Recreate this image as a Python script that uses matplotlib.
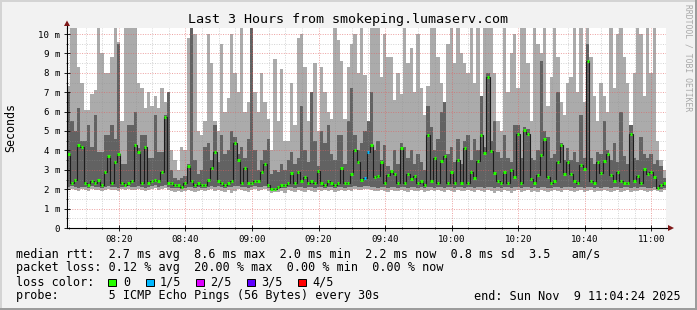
import numpy as np
import matplotlib
matplotlib.use("Agg")
import matplotlib.pyplot as plt
from matplotlib.patches import Rectangle, Polygon

W, H = 697, 310
MONO = "DejaVu Sans Mono"

# one bin per minute, x = minutes after 08:00, first bin starts 08:04:24
start = 4.4

# smoke: lo..hi light, q1..q3 dark, med = median rtt (ms)
hi = [7.3, 11, 11, 8.3, 7.5, 6.1, 6.1, 6.9, 7.1, 11, 9.0, 8.0, 8.0, 8.8, 11, 9.6, 5.5, 11, 11, 11,
      11, 7.5, 7.2, 6.2, 7.0, 6.3, 6.8, 6.2, 7.2, 6.5,
      7.0, 4.0, 3.5, 3.0, 4.2, 4.0, 9.8, 11, 10.0, 5.0, 4.8, 5.5, 10.0, 8.5, 5.5, 5.0, 9.5, 6.0, 6.7, 10.0,
      8.0, 7.0, 11, 6.0, 6.5, 11, 7.0, 6.0, 8.0, 6.5,
      5.6, 4.0, 8.7, 5.5, 8.2, 4.5, 4.5, 7.5, 5.3, 9.8, 10.0, 8.3, 5.5, 7.0, 8.5, 5.0, 8.3, 7.0, 6.0, 5.6,
      11, 9.7, 8.6, 5.6, 8.3, 9.5, 10.0, 8.0, 11, 7.9,
      5.5, 10.5, 11, 11, 7.8, 10.0, 8.8, 8.8, 6.6, 8.0, 6.9, 11, 8.5, 9.3, 7.0, 10.0, 7.2, 5.8, 7.3, 11,
      10.3, 8.8, 7.5, 6.5, 9.5, 11, 8.5, 11, 9.0, 8.5,
      8.0, 11, 7.5, 11, 6.8, 11, 11, 11, 8.0, 5.5, 5.0, 11, 7.0, 9.0, 10.0, 7.2, 11, 11, 8.5, 5.5,
      11, 9.5, 9.0, 11, 6.3, 7.8, 11, 8.8, 6.5, 5.8,
      7.5, 7.8, 11, 7.0, 11, 6.5, 11, 8.8, 6.8, 5.5, 7.5, 6.8, 6.0, 11, 7.2, 10.0, 11, 8.8, 7.5, 5.3,
      8.0, 11, 10.0, 6.8, 11, 8.0, 11, 4.5, 3.5, 3.0]
q3 = [7.0, 5.5, 5.0, 6.2, 4.5, 4.5, 5.3, 4.2, 5.8, 3.9, 3.9, 4.8, 4.8, 5.3, 4.6, 9.5, 3.3, 3.3, 5.3, 5.3,
      6.0, 4.1, 4.8, 4.8, 3.6, 3.6, 5.8, 3.9, 3.9, 5.8,
      7.0, 3.0, 2.6, 2.5, 2.6, 2.7, 3.3, 11, 3.5, 2.8, 3.0, 4.2, 4.4, 3.5, 5.3, 3.4, 4.8, 3.8, 4.0, 5.0,
      4.7, 3.8, 4.2, 3.6, 4.6, 11, 4.0, 3.0, 3.5, 4.0,
      4.6, 2.8, 3.0, 2.9, 3.3, 3.0, 3.5, 3.9, 3.3, 3.6, 6.3, 4.0, 3.4, 7.0, 4.5, 3.2, 5.0, 4.4, 5.3, 3.8,
      3.5, 4.8, 4.8, 3.3, 5.5, 7.2, 4.8, 4.0, 4.4, 5.0,
      5.5, 7.0, 4.0, 4.5, 3.5, 4.3, 3.2, 3.0, 4.0, 3.3, 4.4, 4.2, 3.6, 4.0, 3.3, 3.8, 3.4, 3.0, 6.3, 5.2,
      4.0, 4.6, 6.0, 6.5, 3.8, 4.2, 3.4, 4.6, 3.3, 4.5,
      4.8, 3.5, 4.6, 4.0, 6.8, 4.2, 8.0, 4.5, 5.5, 3.9, 3.6, 4.8, 3.6, 3.4, 5.3, 5.3, 3.6, 5.2, 5.1, 3.6,
      3.5, 4.0, 8.6, 5.0, 4.7, 3.6, 3.8, 7.0, 4.4, 3.5,
      4.1, 3.5, 3.9, 3.4, 5.8, 3.6, 9.5, 3.6, 3.3, 3.9, 3.8, 5.5, 4.0, 3.5, 4.4, 3.4, 6.0, 3.7, 3.3, 5.3,
      3.6, 3.5, 4.7, 3.8, 3.6, 3.8, 3.3, 3.5, 3.2, 2.6]
med = [3.8, 2.3, 2.5, 4.3, 4.2, 2.3, 2.2, 2.4, 2.3, 2.5, 2.2, 2.9, 3.7, 2.3, 3.4, 3.8, 2.3, 2.2, 2.3, 2.4,
       4.3, 3.9, 2.3, 4.2, 2.3, 2.4, 2.5, 2.4, 2.9, 5.7,
       2.3, 2.3, 2.2, 2.2, 2.1, 2.3, 3.2, 2.4, 2.2, 2.3, 2.2, 2.2, 2.5, 3.1, 3.9, 2.4, 2.3, 2.2, 2.3, 2.4,
       4.4, 3.5, 2.3, 3.1, 2.3, 2.3, 2.4, 2.4, 2.9, 3.3,
       2.2, 2.0, 2.0, 2.1, 2.2, 2.2, 2.3, 2.85, 2.3, 2.9, 2.4, 2.65, 2.3, 2.4, 2.3, 2.95, 2.3, 2.2, 2.4, 2.3,
       2.2, 2.3, 3.1, 2.3, 2.3, 2.8, 4.0, 3.4, 2.5, 2.6,
       3.9, 4.3, 2.65, 2.7, 3.4, 2.3, 2.75, 2.95, 2.8, 2.3, 4.1, 2.3, 2.8, 2.55, 2.7, 2.3, 2.4, 2.2, 4.8, 2.4,
       3.6, 2.3, 3.45, 3.7, 2.3, 2.9, 2.3, 3.5, 2.3, 4.1,
       2.3, 2.9, 2.6, 3.45, 4.8, 3.85, 7.8, 3.95, 2.85, 2.4, 2.3, 2.9, 2.3, 3.0, 2.65, 4.85, 2.3, 5.05, 4.85, 2.55,
       2.3, 2.75, 3.75, 4.6, 2.65, 2.3, 2.4, 3.4, 4.3, 2.8,
       3.4, 2.8, 2.4, 2.3, 3.25, 3.05, 8.6, 2.4, 2.3, 3.4, 2.85, 3.45, 3.8, 2.75, 2.4, 2.9, 2.4, 2.3, 2.3, 4.85,
       2.4, 2.7, 2.3, 3.05, 2.8, 2.9, 2.65, 2.05, 2.2, 2.3]
q1 = [2.1, 2.15, 2.1, 2.05, 2.1, 2.1, 2.05, 2.15, 2.1, 2.1, 2.05, 2.1, 2.15, 2.1, 2.1, 2.05, 2.1, 2.1, 2.15, 2.1,
      2.1, 2.15, 2.1, 2.05, 2.1, 2.15, 2.2, 2.1, 2.15, 2.2,
      2.1, 2.05, 2.05, 2.05, 2.0, 2.05, 2.1, 2.1, 2.05, 2.1, 2.05, 2.05, 2.1, 2.15, 2.1, 2.15, 2.1, 2.05, 2.1, 2.1,
      2.15, 2.15, 2.1, 2.1, 2.05, 2.1, 2.15, 2.1, 2.1, 2.15,
      2.05, 1.95, 1.95, 2.0, 2.05, 2.05, 2.1, 2.1, 2.05, 2.1, 2.1, 2.05, 2.1, 2.1, 2.05, 2.1, 2.1, 2.05, 2.1, 2.1,
      2.05, 2.1, 2.1, 2.05, 2.1, 2.1, 2.15, 2.1, 2.1, 2.15,
      2.15, 2.1, 2.1, 2.05, 2.1, 2.1, 2.05, 2.1, 2.1, 2.05, 2.1, 2.1, 2.05, 2.1, 2.1, 2.05, 2.1, 2.05, 2.1, 2.1,
      2.05, 2.1, 2.1, 2.05, 2.1, 2.1, 2.05, 2.1, 2.1, 2.05,
      2.1, 2.1, 2.05, 2.1, 2.1, 2.05, 2.1, 2.1, 2.05, 2.1, 2.05, 2.1, 2.1, 2.05, 2.1, 2.1, 2.05, 2.1, 2.1, 2.05,
      2.1, 2.05, 2.1, 2.1, 2.05, 2.05, 2.1, 2.1, 2.05, 2.1,
      2.1, 2.1, 2.05, 2.1, 2.1, 2.05, 2.1, 2.1, 2.05, 2.1, 2.05, 2.1, 2.1, 2.05, 2.1, 2.1, 2.05, 2.1, 2.1, 2.05,
      2.1, 2.05, 2.1, 2.1, 2.05, 2.05, 2.1, 2.0, 2.0, 2.05]
lo = [1.95, 2.0, 1.95, 1.9, 2.0, 1.95, 1.9, 2.0, 1.95, 1.95, 1.9, 1.95, 2.0, 1.95, 1.95, 1.9, 2.0, 1.95, 2.0, 1.95,
      1.95, 2.0, 1.95, 1.9, 1.95, 2.0, 2.05, 1.95, 2.0, 2.05,
      1.95, 1.9, 1.85, 1.9, 1.85, 1.9, 1.95, 1.9, 1.85, 1.9, 1.95, 1.9, 1.95, 2.0, 1.9, 1.95, 1.9, 1.85, 1.95, 1.8,
      1.9, 2.0, 1.95, 1.9, 1.85, 1.95, 2.0, 1.9, 1.95, 2.0,
      1.9, 1.8, 1.85, 1.85, 1.9, 1.8, 1.95, 1.9, 1.85, 1.95, 1.9, 1.85, 1.95, 1.9, 1.85, 1.95, 1.9, 1.95, 1.9, 1.95,
      1.85, 1.9, 1.95, 1.9, 1.95, 1.9, 2.0, 1.95, 1.95, 2.0,
      2.0, 1.95, 1.9, 1.9, 1.95, 1.9, 1.85, 1.95, 1.9, 1.9, 1.95, 1.9, 1.85, 1.95, 1.9, 1.9, 1.95, 1.85, 1.9, 1.95,
      1.9, 1.95, 1.9, 1.85, 1.95, 1.9, 1.85, 1.95, 1.9, 1.9,
      1.95, 1.9, 1.85, 1.95, 1.9, 1.85, 1.95, 1.9, 1.8, 1.9, 1.85, 1.95, 1.9, 1.8, 1.9, 1.95, 1.85, 1.9, 1.95, 1.85,
      1.9, 1.85, 1.95, 1.9, 1.85, 1.9, 1.95, 1.9, 1.85, 1.95,
      1.95, 1.9, 1.85, 1.9, 1.95, 1.85, 1.9, 1.95, 1.85, 1.9, 1.9, 1.95, 1.9, 1.85, 1.9, 1.95, 1.85, 1.9, 1.95, 1.85,
      1.9, 1.9, 1.95, 1.9, 1.85, 1.9, 1.95, 1.9, 1.85, 1.95]

# bins with packet loss (index, lost pings)
loss_bins = [89, 90]
loss_level = [1, 1]

loss_names = ["0", "1/5", "2/5", "3/5", "4/5"]
loss_colors = ["#26ff00", "#00b8ff", "#dd00ff", "#5e00ff", "#ff0000"]

x_ticks = [20, 40, 60, 80, 100, 120, 140, 160, 180]
x_labels = ["08:20", "08:40", "09:00", "09:20", "09:40", "10:00", "10:20", "10:40", "11:00"]
y_ticks = [0, 1, 2, 3, 4, 5, 6, 7, 8, 9, 10]
y_labels = ["0", "1 m", "2 m", "3 m", "4 m", "5 m", "6 m", "7 m", "8 m", "9 m", "10 m"]

title = "Last 3 Hours from smokeping.lumaserv.com"
line_rtt = "median rtt:  2.7 ms avg  8.6 ms max  2.0 ms min  2.2 ms now  0.8 ms sd  3.5   am/s"
line_loss = "packet loss: 0.12 % avg  20.00 % max  0.00 % min  0.00 % now"
line_probe = "probe:       5 ICMP Echo Pings (56 Bytes) every 30s"
line_end = "end: Sun Nov  9 11:04:24 2025"


def fx(px):
    return px / W


def fy(py):
    return 1 - py / H


fig = plt.figure(figsize=(W / 100, H / 100), dpi=100, facecolor="#f2f2f2")

# 3d-ish image frame like rrdtool
fig.add_artist(Rectangle((0, 1 - 2 / H), 1, 2 / H, transform=fig.transFigure, color="#d4d4d4", lw=0))
fig.add_artist(Rectangle((0, 0), 2 / W, 1, transform=fig.transFigure, color="#d4d4d4", lw=0))
fig.add_artist(Rectangle((0, 0), 1, 2 / H, transform=fig.transFigure, color="#9c9c9c", lw=0))
fig.add_artist(Rectangle((1 - 2 / W, 0), 2 / W, 1, transform=fig.transFigure, color="#9c9c9c", lw=0))

ax = fig.add_axes([fx(67), fy(228), (666 - 67) / W, 200 / H])
ax.set_facecolor("white")

n = len(med)
edges = start + np.arange(n + 1)
hi = np.array(hi)
q3 = np.array(q3)
med = np.array(med)
q1 = np.array(q1)
lo = np.array(lo)

ax.stairs(hi, edges, baseline=lo, fill=True, color="#ababab", lw=0, zorder=1)
ax.stairs(q3, edges, baseline=q1, fill=True, color="#626262", lw=0, zorder=1.2)
ax.stairs(med, edges, baseline=None, color="#1c1c1c", lw=0.8, zorder=3)

cols = [loss_colors[0]] * n
for b, lv in zip(loss_bins, loss_level):
    cols[b] = loss_colors[lv]
ax.hlines(med, edges[:-1] + 0.15, edges[1:] - 0.15, colors=cols, lw=2.2, zorder=4)

ax.set_xlim(start, start + 180)
ax.set_ylim(0, 200 / 19.4)

ax.set_xticks(x_ticks, x_labels)
ax.set_xticks(np.arange(5, 185, 5), minor=True)
ax.set_yticks(y_ticks, y_labels)
ax.set_yticks(np.arange(0.5, 10.5, 1.0), minor=True)

ax.set_axisbelow(False)
ax.grid(which="major", color="#e06060", alpha=0.6, linestyle=(0, (1, 1.5)), lw=0.7)
ax.grid(which="minor", color="#909090", alpha=0.4, linestyle=(0, (1, 1.5)), lw=0.7)

for s in ["top", "right"]:
    ax.spines[s].set_visible(False)
for s in ["left", "bottom"]:
    ax.spines[s].set_linewidth(0.8)
    ax.spines[s].set_zorder(6)

ax.tick_params(which="major", direction="inout", length=4, width=0.6, pad=3,
               labelsize=6.6)
ax.tick_params(which="minor", direction="inout", length=2, width=0.5)
for lab in ax.get_xticklabels() + ax.get_yticklabels():
    lab.set_family(MONO)

# axis extensions and arrows
ax.plot([start + 180, start + 181.5], [0, 0], color="black", lw=0.8, clip_on=False, zorder=6)
ax.plot([start, start], [10.3, 10.5], color="black", lw=0.8, clip_on=False, zorder=6)
fig.add_artist(Polygon([(fx(668), fy(225)), (fx(674), fy(228)), (fx(668), fy(231))],
                       closed=True, transform=fig.transFigure, color="#7f1818", lw=0))
fig.add_artist(Polygon([(fx(64), fy(26)), (fx(67), fy(20.5)), (fx(70), fy(26))],
                       closed=True, transform=fig.transFigure, color="#7f1818", lw=0))

# texts
fig.text(fx(348), fy(19), title, ha="center", va="center", fontsize=9.6, family=MONO)
fig.text(fx(11), fy(128), "Seconds", rotation=90, ha="center", va="center", fontsize=8.4, family=MONO)
fig.text(fx(688), fy(58), "RRDTOOL / TOBI OETIKER", rotation=270, ha="center", va="center",
         fontsize=5.8, family=MONO, color="#a8a8a8")

fig.text(fx(16), fy(254.7), line_rtt, ha="left", va="center", fontsize=8.5, family=MONO)
fig.text(fx(16), fy(268), line_loss, ha="left", va="center", fontsize=8.5, family=MONO)
fig.text(fx(16), fy(282.3), "loss color:", ha="left", va="center", fontsize=8.5, family=MONO)
fig.text(fx(16), fy(296), line_probe, ha="left", va="center", fontsize=8.5, family=MONO)
fig.text(fx(681), fy(296), line_end, ha="right", va="center", fontsize=8.5, family=MONO)

box_x = [108, 145.5, 196, 246.5, 298]
lab_x = [123, 160, 210.5, 261, 312]
for bx, lx, name, c in zip(box_x, lab_x, loss_names, loss_colors):
    fig.add_artist(Rectangle((fx(bx), fy(286.3)), 8.3 / W, 7.7 / H, transform=fig.transFigure,
                             facecolor=c, edgecolor="black", lw=0.7))
    fig.text(fx(lx), fy(282.3), name, ha="left", va="center", fontsize=8.5, family=MONO)

fig.savefig("out.png", dpi=100, facecolor=fig.get_facecolor())
